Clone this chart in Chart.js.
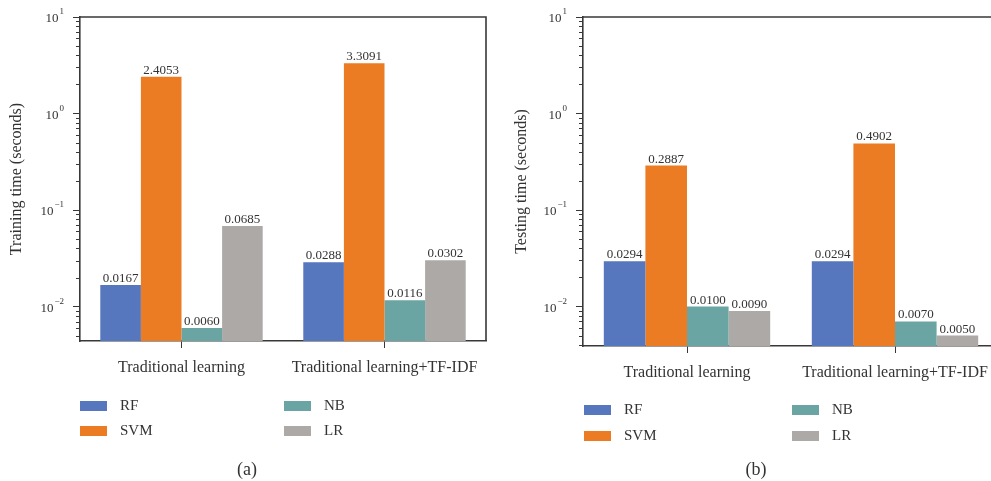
<!DOCTYPE html>
<html>
<head>
<meta charset="utf-8">
<script src="https://cdn.jsdelivr.net/npm/chart.js@4.4.1/dist/chart.umd.min.js"></script>
<style>
  html, body { margin: 0; padding: 0; background: #fff; }
  body { width: 991px; height: 481px; overflow: hidden; position: relative; }
  .panel { position: absolute; top: 0; }
  canvas { display: block; }
</style>
</head>
<body>
<div class="panel" style="left:0"><canvas id="trainChart" width="495" height="481"></canvas></div>
<div class="panel" style="left:495px"><canvas id="testChart" width="514" height="481"></canvas></div>
<script>
// Categories and model names
const categories = ['Traditional learning', 'Traditional learning+TF-IDF'];
const modelNames = ['RF', 'SVM', 'NB', 'LR'];

// Training time (seconds)
const trainRF  = [0.0167, 0.0288];
const trainSVM = [2.4053, 3.3091];
const trainNB  = [0.0060, 0.0116];
const trainLR  = [0.0685, 0.0302];

// Testing time (seconds)
const testRF  = [0.0294, 0.0294];
const testSVM = [0.2887, 0.4902];
const testNB  = [0.0100, 0.0070];
const testLR  = [0.0090, 0.0050];

// Decades labelled on the log axis
const decadePowers = [-2, -1, 0, 1];

const modelColors = ['#5676bd', '#eb7c24', '#6aa5a3', '#aca9a7'];
const axisInk = '#383838';
const textInk = '#333333';
const serif = '"Liberation Serif", "DejaVu Serif", serif';

function isDecade(v) {
  const l = Math.log10(v);
  return Math.abs(l - Math.round(l)) < 1e-9;
}

// 1..9 x 10^p tick values between min and max
function logTickValues(min, max) {
  const vals = [];
  const p0 = Math.floor(Math.log10(min));
  const p1 = Math.ceil(Math.log10(max));
  for (let p = p0; p <= p1; p++) {
    for (let m = 1; m <= 9; m++) {
      const v = Number((m * Math.pow(10, p)).toPrecision(6));
      if (v >= min - 1e-12 && v <= max + 1e-12) vals.push(v);
    }
  }
  return vals;
}

// Value labels above each bar
const barValueLabels = {
  id: 'barValueLabels',
  afterDatasetsDraw(chart) {
    const ctx = chart.ctx;
    ctx.save();
    ctx.font = '13px ' + serif;
    ctx.fillStyle = textInk;
    ctx.textAlign = 'center';
    ctx.textBaseline = 'alphabetic';
    chart.data.datasets.forEach((ds, i) => {
      chart.getDatasetMeta(i).data.forEach((bar, j) => {
        ctx.fillText(ds.data[j].toFixed(4), bar.x, bar.y - 3);
      });
    });
    ctx.restore();
  }
};

// Frame, log-axis minor ticks and decade labels, legend and caption
const panelDecor = {
  id: 'panelDecor',
  afterDraw(chart, args, opts) {
    const ctx = chart.ctx;
    const { left, right, top, bottom } = chart.chartArea;
    const yScale = chart.scales.y;
    ctx.save();

    // top and right edges of the plot frame
    ctx.strokeStyle = axisInk;
    ctx.lineWidth = 1.6;
    ctx.beginPath();
    ctx.moveTo(left, top);
    ctx.lineTo(right, top);
    ctx.lineTo(right, bottom);
    ctx.stroke();

    // minor ticks
    ctx.lineWidth = 1;
    yScale.ticks.forEach(t => {
      if (isDecade(t.value)) return;
      const py = Math.round(yScale.getPixelForValue(t.value)) + 0.5;
      ctx.beginPath();
      ctx.moveTo(left - 4, py);
      ctx.lineTo(left, py);
      ctx.stroke();
    });

    // decade labels with superscript exponents
    ctx.fillStyle = textInk;
    ctx.textAlign = 'right';
    ctx.textBaseline = 'alphabetic';
    decadePowers.forEach(p => {
      const py = yScale.getPixelForValue(Math.pow(10, p));
      const exp = p < 0 ? '\u2212' + Math.abs(p) : String(p);
      const xr = left - 16;
      ctx.font = '9px ' + serif;
      const ew = ctx.measureText(exp).width;
      ctx.fillText(exp, xr, py - 3);
      ctx.font = '13px ' + serif;
      ctx.fillText('10', xr - ew - 1, py + 5);
    });

    // legend in two columns
    ctx.textAlign = 'left';
    ctx.textBaseline = 'middle';
    ctx.font = '15px ' + serif;
    chart.data.datasets.forEach((ds, i) => {
      const x = opts.legendX[Math.floor(i / 2)];
      const y = opts.legendY[i % 2];
      ctx.fillStyle = ds.backgroundColor;
      ctx.fillRect(x, y, 27, 10);
      ctx.fillStyle = textInk;
      ctx.fillText(ds.label, x + 40, y + 5);
    });

    // panel caption
    ctx.font = '18px ' + serif;
    ctx.textAlign = 'center';
    ctx.fillText(opts.caption, opts.captionX, opts.captionY);
    ctx.restore();
  }
};

function buildChart(canvasId, series, cfg) {
  const datasets = modelNames.map((name, i) => ({
    label: name,
    data: series[i],
    backgroundColor: modelColors[i],
    borderWidth: 0,
    categoryPercentage: 0.8,
    barPercentage: 1.0
  }));
  return new Chart(document.getElementById(canvasId), {
    type: 'bar',
    data: { labels: categories, datasets },
    options: {
      responsive: false,
      animation: false,
      devicePixelRatio: 1,
      events: [],
      layout: { padding: cfg.padding },
      plugins: {
        legend: { display: false },
        tooltip: { enabled: false },
        panelDecor: cfg.decor
      },
      scales: {
        x: {
          afterFit: s => { s.height = 40; },
          grid: {
            display: true, drawOnChartArea: false, drawTicks: true,
            tickLength: 7, offset: false, color: axisInk, tickColor: axisInk, tickWidth: 1
          },
          border: { display: true, color: axisInk, width: 1.6 },
          ticks: {
            font: { family: serif, size: 16 }, color: textInk,
            padding: 10, maxRotation: 0, autoSkip: false
          }
        },
        y: {
          type: 'logarithmic',
          min: cfg.yMin,
          max: 10,
          afterFit: s => { s.width = cfg.yWidth; },
          afterBuildTicks: s => {
            s.ticks = logTickValues(s.min, s.max).map(v => ({ value: v }));
          },
          grid: {
            display: true, drawOnChartArea: false, drawTicks: true, tickLength: 7,
            tickWidth: 1,
            tickColor: c => (c.tick && isDecade(c.tick.value)) ? axisInk : 'rgba(0,0,0,0)'
          },
          border: { display: true, color: axisInk, width: 1.6 },
          ticks: { autoSkip: false, callback: () => '' },
          title: {
            display: true,
            text: cfg.yTitle,
            font: { family: serif, size: 16 },
            color: textInk,
            padding: { top: cfg.titlePad, bottom: 0 }
          }
        }
      }
    },
    plugins: [barValueLabels, panelDecor]
  });
}

buildChart('trainChart', [trainRF, trainSVM, trainNB, trainLR], {
  padding: { top: 17, right: 9, left: 0, bottom: 100 },
  yMin: 0.0044,
  yWidth: 80,
  yTitle: 'Training time (seconds)',
  titlePad: 7,
  decor: { legendX: [80, 284], legendY: [401, 426], caption: '(a)', captionX: 247, captionY: 470 }
});

buildChart('testChart', [testRF, testSVM, testNB, testLR], {
  padding: { top: 17, right: 10, left: 0, bottom: 95 },
  yMin: 0.0039,
  yWidth: 88,
  yTitle: 'Testing time (seconds)',
  titlePad: 17,
  decor: { legendX: [89, 297], legendY: [405, 431], caption: '(b)', captionX: 261, captionY: 470 }
});
</script>
</body>
</html>
